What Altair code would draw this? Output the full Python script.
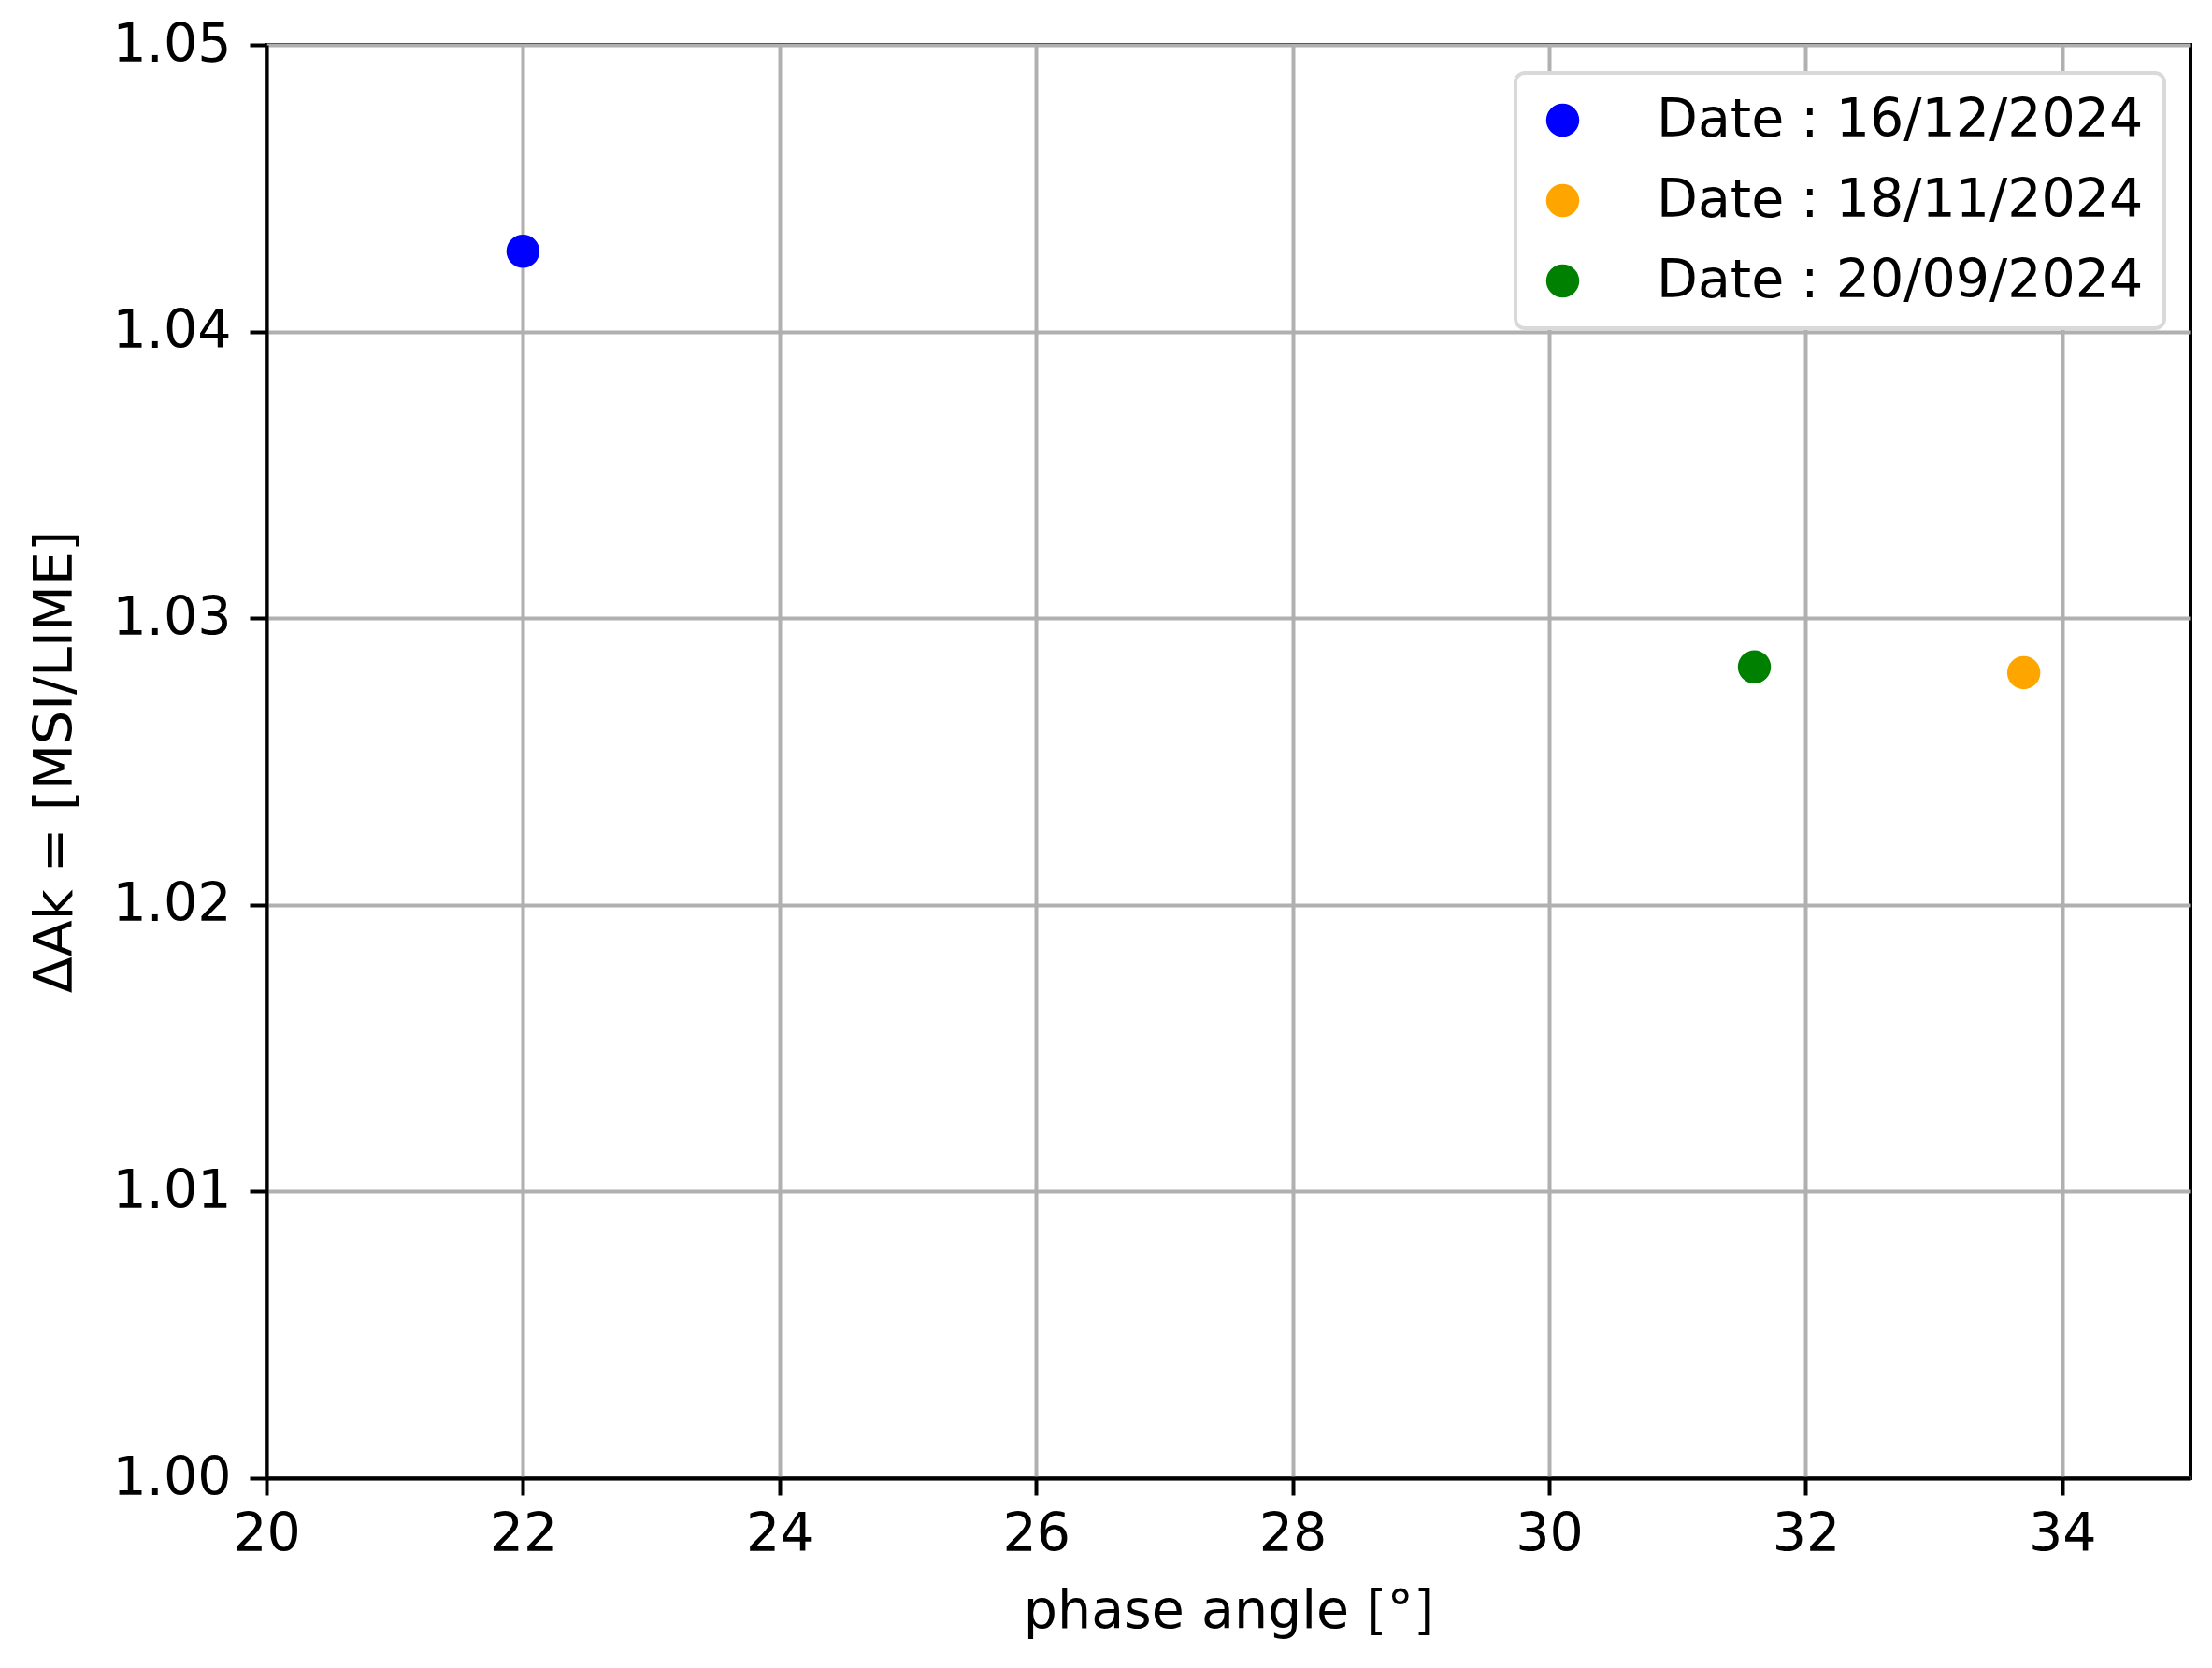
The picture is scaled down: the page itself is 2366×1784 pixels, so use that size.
import altair as alt
import pandas as pd

dates = ["Date : 16/12/2024", "Date : 18/11/2024", "Date : 20/09/2024"]
phase_angle = [22.0, 33.7, 31.6]
delta_ak = [1.0428, 1.0281, 1.0283]
colors = ["#0000ff", "#ffa500", "#008000"]

x_ticks = [20, 22, 24, 26, 28, 30, 32, 34]
y_ticks = [1.00, 1.01, 1.02, 1.03, 1.04, 1.05]

df = pd.DataFrame({"date": dates, "phase": phase_angle, "dak": delta_ak})

FONT = "DejaVu Sans"
FS = 57

chart = alt.Chart(df).mark_circle(size=1257, opacity=1).encode(
    x=alt.X("phase:Q", title="phase angle [°]",
            scale=alt.Scale(domain=[20, 35], nice=False, zero=False),
            axis=alt.Axis(values=x_ticks, format="d")),
    y=alt.Y("dak:Q", title="ΔAk = [MSI/LIME]",
            scale=alt.Scale(domain=[1.00, 1.05], nice=False, zero=False),
            axis=alt.Axis(values=y_ticks, format=".2f")),
    color=alt.Color("date:N",
                    scale=alt.Scale(domain=dates, range=colors),
                    legend=alt.Legend(title=None, orient="none",
                                      legendX=1336, legendY=30)),
).properties(
    width=2058,
    height=1533,
    padding={"left": 277, "top": 40, "right": 15, "bottom": 180},
    autosize=alt.AutoSizeParams(type="none"),
).configure_view(
    stroke="black", strokeWidth=4
).configure_axis(
    labelFont=FONT, titleFont=FONT,
    labelFontSize=FS, titleFontSize=FS,
    labelColor="black", titleColor="black",
    titleFontWeight="normal",
    domainColor="black", domainWidth=4,
    tickColor="black", tickWidth=4, tickSize=18,
    gridColor="#b0b0b0", gridWidth=4,
    labelFlush=False,
).configure_axisX(
    labelPadding=14,
    titlePadding=26,
).configure_axisY(
    labelPadding=20,
    titlePadding=32,
).configure_legend(
    labelFont=FONT, labelFontSize=FS, labelColor="black",
    symbolType="circle", symbolSize=1257, symbolOpacity=1,
    symbolStrokeWidth=0,
    labelOffset=72, rowPadding=28, padding=22,
    fillColor="white", strokeColor="#d9d9d9", strokeWidth=4,
    cornerRadius=10, labelLimit=1000,
)

chart.save("out.html", embed_options={"renderer": "svg", "actions": False})
